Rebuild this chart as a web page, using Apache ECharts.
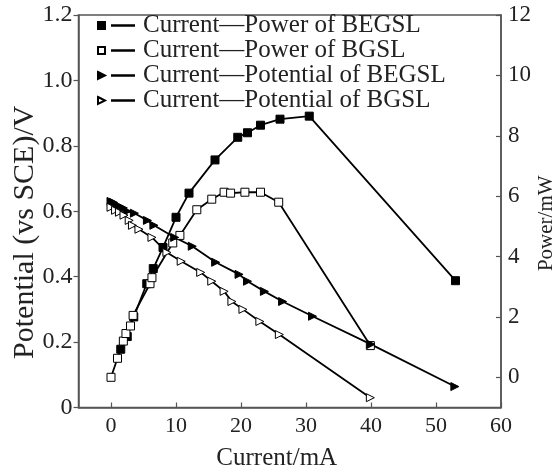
<!DOCTYPE html>
<html>
<head>
<meta charset="utf-8">
<script src="https://cdn.jsdelivr.net/npm/echarts@6/dist/echarts.min.js"></script>
<style>
  html, body { margin: 0; padding: 0; background: #fff; }
  #chart { width: 557px; height: 472px; }
</style>
</head>
<body>
<div id="chart"></div>
<script>
// current (mA) and power (mW) / potential (V)
const powerBegslCurrent = [1.5, 2.5, 3.5, 5.5, 6.5, 8, 10, 12, 16, 19.5, 21, 23, 26, 30.5, 53]
const powerBegsl = [0.93, 1.35, 2.0, 3.1, 3.6, 4.3, 5.3, 6.1, 7.2, 7.95, 8.1, 8.35, 8.55, 8.65, 3.2]

const powerBgslCurrent = [0, 1.0, 1.9, 2.3, 3.0, 3.4, 6.0, 6.3, 9.5, 10.6, 13.2, 15.5, 17.4, 18.4, 20.6, 23.0, 25.8, 39.9]
const powerBgsl = [0, 0.63, 1.2, 1.45, 1.7, 2.05, 3.1, 3.3, 4.45, 4.7, 5.55, 5.9, 6.13, 6.1, 6.13, 6.13, 5.8, 1.05]

const potBegslCurrent = [0, 0.4, 0.8, 1.3, 1.9, 2.5, 3.6, 5.6, 6.6, 9.8, 12.5, 16.1, 19.7, 21, 23.6, 26.4, 31, 40, 52.9]
const potBegsl = [0.63, 0.627, 0.62, 0.615, 0.61, 0.60, 0.594, 0.572, 0.557, 0.52, 0.493, 0.444, 0.407, 0.386, 0.355, 0.324, 0.279, 0.193, 0.064]

const potBgslCurrent = [0, 0.7, 1.3, 2.0, 2.8, 3.3, 4.3, 6.3, 8.6, 10.8, 13.8, 15.5, 17.4, 18.6, 20.3, 22.9, 25.9, 39.9]
const potBgsl = [0.612, 0.603, 0.597, 0.588, 0.572, 0.557, 0.545, 0.52, 0.474, 0.447, 0.413, 0.386, 0.355, 0.324, 0.30, 0.263, 0.223, 0.03]

const seriesNames = [
  'Current\u2014Power of BEGSL',
  'Current\u2014Power of BGSL',
  'Current\u2014Potential of BEGSL',
  'Current\u2014Potential of BGSL'
]
const xTicks = [0, 10, 20, 30, 40, 50, 60]
const powerTicks = [0, 2, 4, 6, 8, 10, 12]

const pairs = (xs, ys) => xs.map((x, i) => [x, ys[i]])

const font = 'Liberation Serif'
const axisColor = '#555'
const squareIcon = 'path://M0,0h7v7h-7z M14,3.2h22v0.6h-22z'
const triIcon = 'path://M0,0L7,3.5L0,7z M14,3.2h22v0.6h-22z'

const chart = echarts.init(document.getElementById('chart'))

const lineSeries = (name, data, yIdx, symbol, filled) => ({
  name: name,
  type: 'line',
  yAxisIndex: yIdx,
  data: data,
  symbol: symbol,
  symbolSize: 8,
  symbolRotate: symbol === 'triangle' ? -90 : 0,
  showAllSymbol: true,
  lineStyle: { color: '#000', width: 1.8 },
  itemStyle: {
    color: filled ? '#000' : '#fff',
    borderColor: '#000',
    borderWidth: 1
  },
  emphasis: { disabled: true },
  animation: false
})

chart.setOption({
  backgroundColor: '#fff',
  grid: {
    left: 78.5,
    right: 56,
    top: 15,
    bottom: 64.5,
    containLabel: false,
    outerBoundsMode: 'none',
    show: true,
    borderColor: axisColor,
    borderWidth: 1.5
  },
  legend: {
    orient: 'vertical',
    left: 97,
    top: 13,
    padding: 0,
    itemWidth: 36,
    itemHeight: 7,
    itemGap: 0,
    selectedMode: false,
    textStyle: {
      fontFamily: font,
      fontSize: 25,
      color: '#222',
      lineHeight: 24.3,
      padding: [0, 0, 0, 4]
    },
    data: [
      { name: seriesNames[0], icon: squareIcon },
      { name: seriesNames[1], icon: squareIcon },
      { name: seriesNames[2], icon: triIcon },
      { name: seriesNames[3], icon: triIcon }
    ]
  },
  xAxis: {
    type: 'value',
    min: -5,
    max: 60,
    name: 'Current/mA',
    nameLocation: 'middle',
    nameGap: 38,
    nameMoveOverlap: false,
    nameTextStyle: { fontFamily: font, fontSize: 25, color: '#222', padding: [0, 26, 0, 0] },
    splitLine: { show: false },
    axisLine: { onZero: false, lineStyle: { color: axisColor, width: 1.5 } },
    axisTick: { inside: true, length: 5, customValues: xTicks, lineStyle: { color: axisColor, width: 1.2 } },
    axisLabel: { customValues: xTicks, margin: 8, fontFamily: font, fontSize: 22, color: '#222' }
  },
  yAxis: [
    {
      type: 'value',
      min: 0,
      max: 1.2,
      interval: 0.2,
      position: 'left',
      name: 'Potential (vs SCE)/V',
      nameLocation: 'middle',
      nameRotate: 90,
      nameGap: 38,
      nameMoveOverlap: false,
      nameTextStyle: { fontFamily: font, fontSize: 30, color: '#222', padding: [0, 42, 0, 0] },
      splitLine: { show: false },
      axisLine: { show: true, onZero: false, lineStyle: { color: axisColor, width: 1.5 } },
      axisTick: { show: true, inside: false, length: 5, lineStyle: { color: axisColor, width: 1.2 } },
      axisLabel: {
        margin: 6,
        fontFamily: font,
        fontSize: 24,
        color: '#222',
        formatter: v => (v === 0 ? '0' : v.toFixed(1))
      }
    },
    {
      type: 'value',
      min: -1,
      max: 12,
      position: 'right',
      name: 'Power/mW',
      nameLocation: 'middle',
      nameRotate: 90,
      nameGap: 35,
      nameMoveOverlap: false,
      nameTextStyle: { fontFamily: font, fontSize: 21, color: '#222', padding: [0, 24, 0, 0] },
      splitLine: { show: false },
      axisLine: { show: true, onZero: false, lineStyle: { color: axisColor, width: 1.5 } },
      axisTick: { show: true, inside: true, length: 5, customValues: powerTicks, lineStyle: { color: axisColor, width: 1.2 } },
      axisLabel: { customValues: powerTicks, margin: 7, fontFamily: font, fontSize: 23, color: '#222' }
    }
  ],
  series: [
    lineSeries(seriesNames[0], pairs(powerBegslCurrent, powerBegsl), 1, 'rect', true),
    lineSeries(seriesNames[1], pairs(powerBgslCurrent, powerBgsl), 1, 'rect', false),
    lineSeries(seriesNames[2], pairs(potBegslCurrent, potBegsl), 0, 'triangle', true),
    lineSeries(seriesNames[3], pairs(potBgslCurrent, potBgsl), 0, 'triangle', false)
  ]
})
</script>
</body>
</html>
